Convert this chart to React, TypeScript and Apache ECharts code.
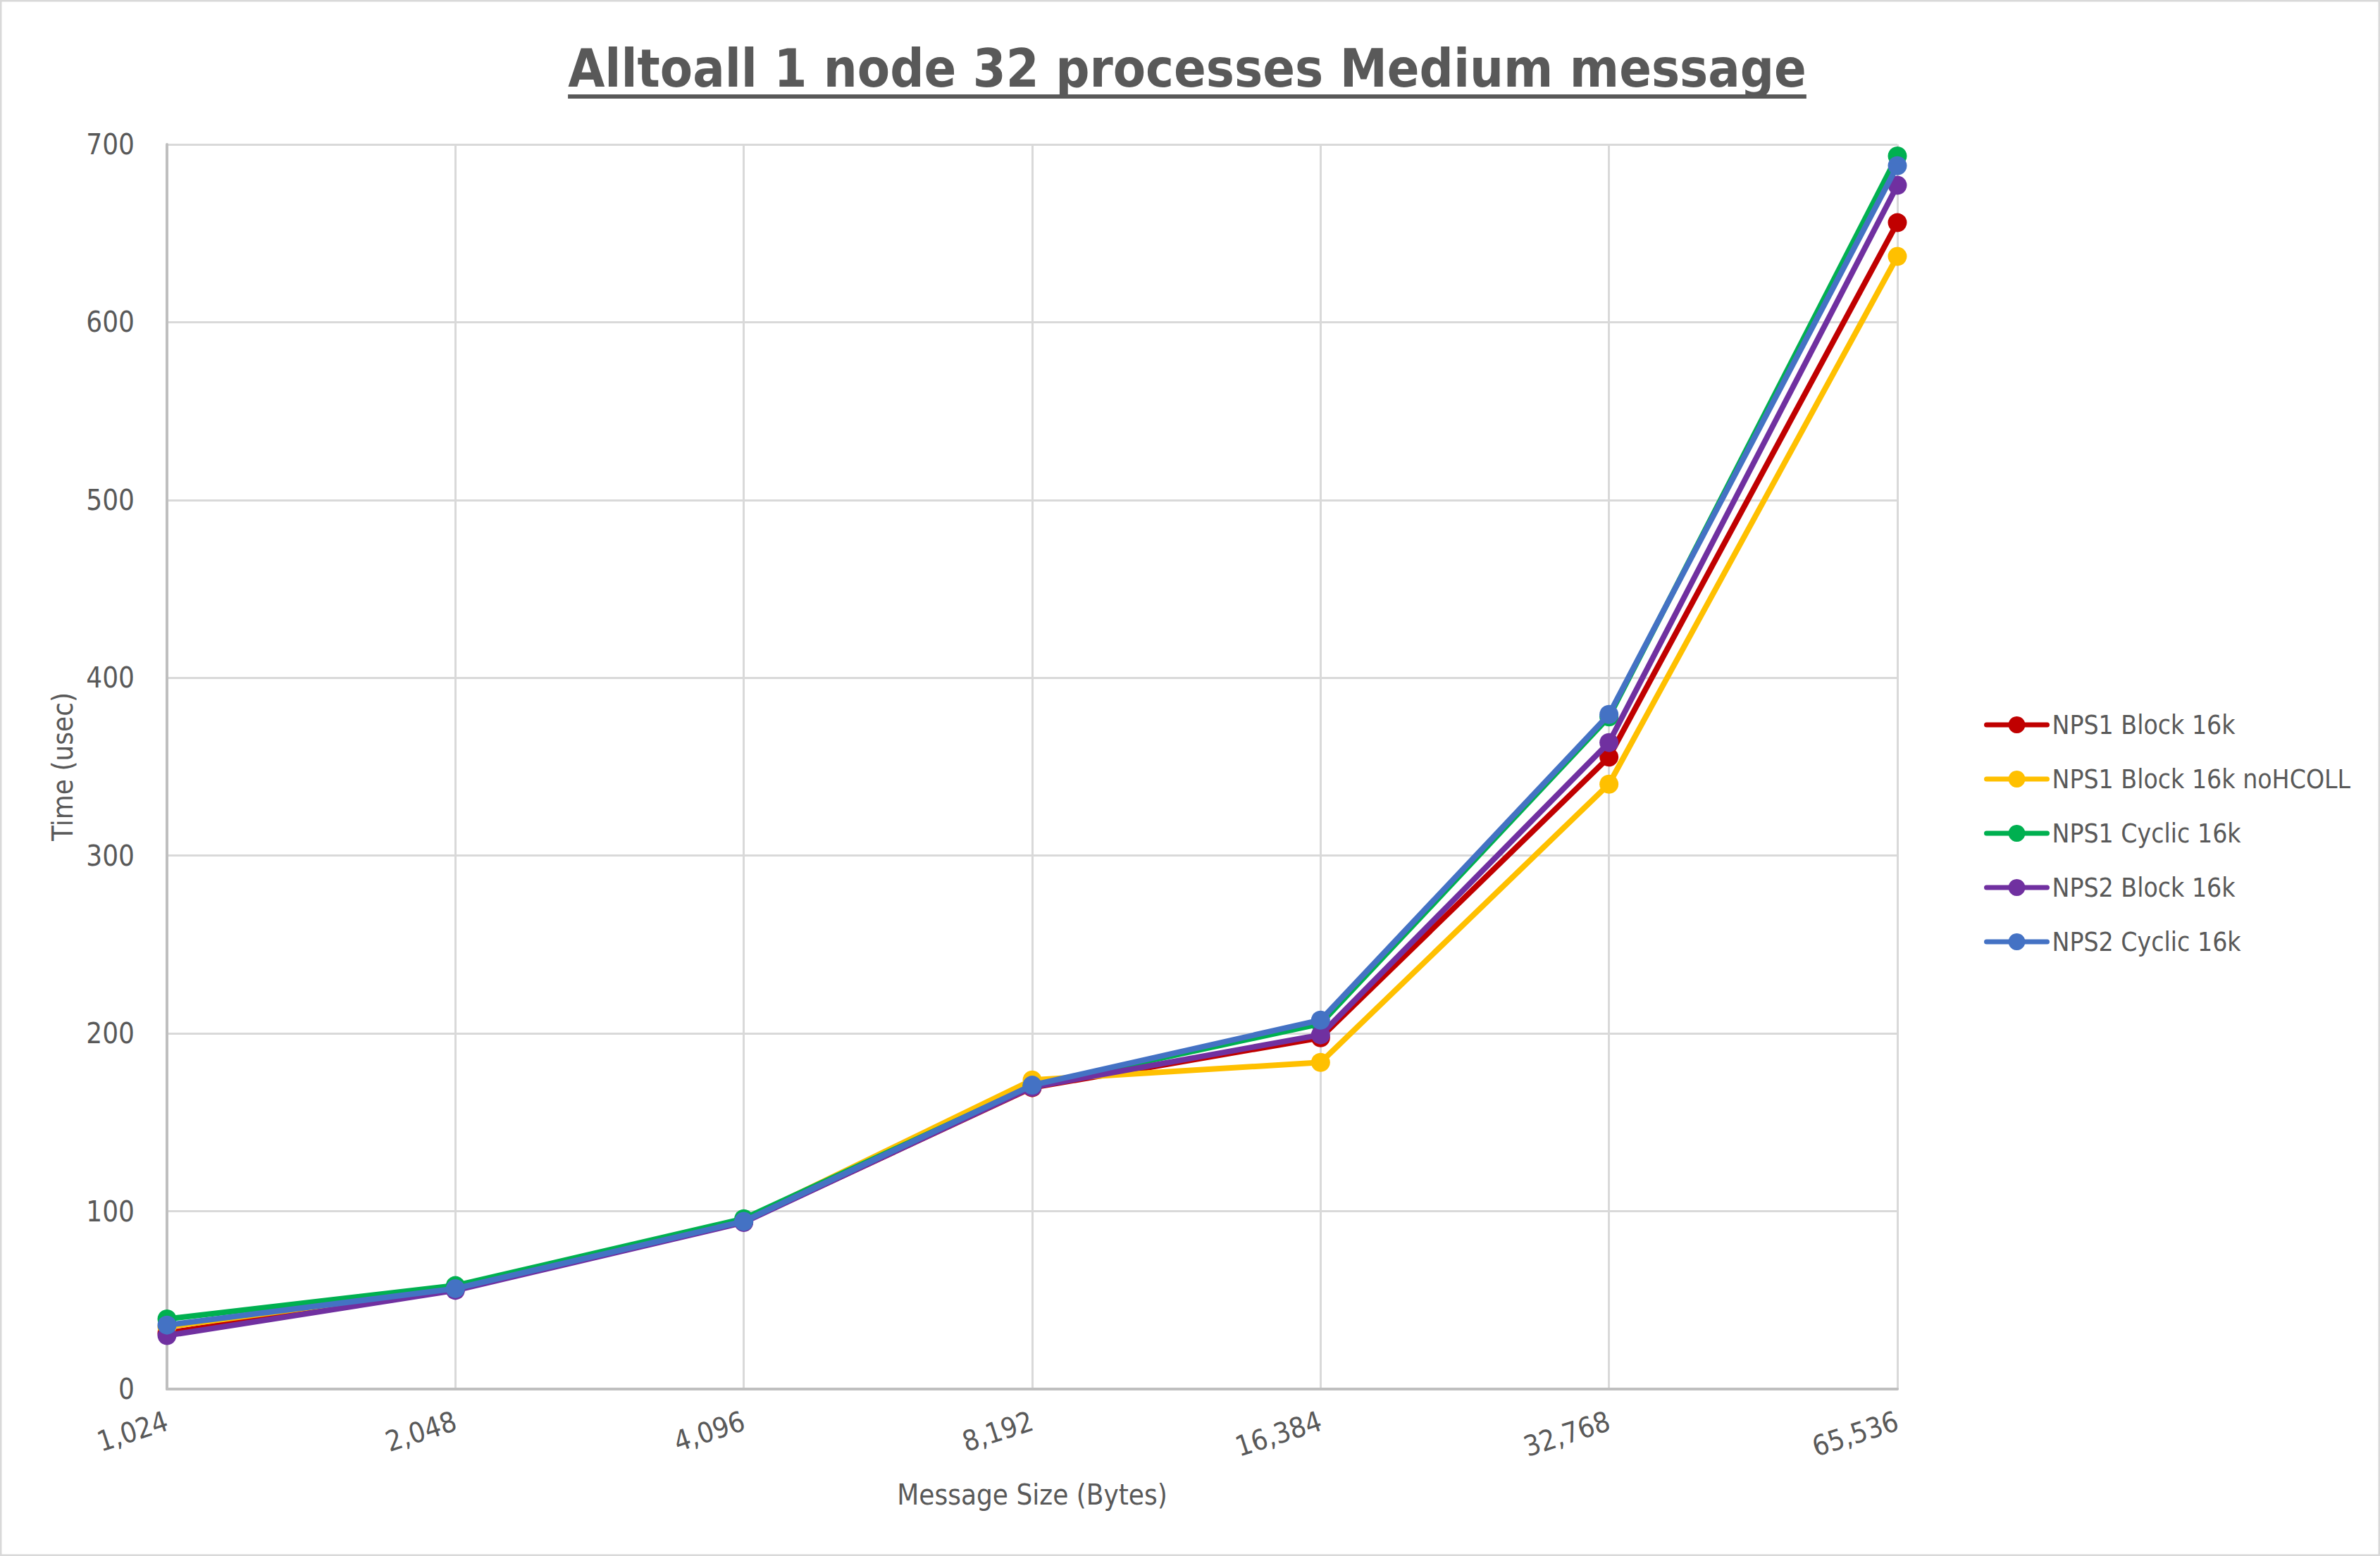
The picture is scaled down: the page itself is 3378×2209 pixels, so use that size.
import React, { useEffect, useRef } from "react";
import * as echarts from "echarts";

const categories = ["1,024", "2,048", "4,096", "8,192", "16,384", "32,768", "65,536"];
const seriesNames = [
  "NPS1 Block 16k",
  "NPS1 Block 16k noHCOLL",
  "NPS1 Cyclic 16k",
  "NPS2 Block 16k",
  "NPS2 Cyclic 16k",
];
const nps1Block = [31.5, 56, 94, 169.5, 197.6, 355.4, 656];
const nps1BlockNoHcoll = [35, 57, 95, 173.8, 183.7, 340.2, 637];
const nps1Cyclic = [39.4, 58.2, 95.8, 170.5, 205.5, 378, 693.5];
const nps2Block = [30.1, 55.5, 93.7, 169.8, 199.2, 363.6, 677];
const nps2Cyclic = [36, 56.5, 94.3, 170.9, 207.5, 379.4, 688];
const colors = ["#C00000", "#FFC000", "#00B050", "#7030A0", "#4472C4"];
const titleText = "Alltoall 1 node 32 processes Medium message";

const W = 3378;
const H = 2209;
const FONT = "'DejaVu Sans Condensed', 'Noto Sans', sans-serif";
const TEXT = "#595959";

export default function App() {
  const ref = useRef<HTMLDivElement>(null);
  useEffect(() => {
    document.body.style.margin = "0";
    if (!ref.current) return;
    const chart = echarts.init(ref.current, undefined, { renderer: "svg" });
    const titleFont = "bold 75px " + FONT;
    let tw = 1747;
    try {
      const ctx = document.createElement("canvas").getContext("2d");
      if (ctx) {
        ctx.font = titleFont;
        tw = ctx.measureText(titleText).width;
      }
    } catch (e) {}
    const cx = 1685;
    const allData = [nps1Block, nps1BlockNoHcoll, nps1Cyclic, nps2Block, nps2Cyclic];
    chart.setOption({
      animation: false,
      backgroundColor: "#ffffff",
      color: colors,
      graphic: [
        {
          type: "rect",
          shape: { x: 1, y: 1, width: W - 2, height: H - 2 },
          style: { fill: "none", stroke: "#d9d9d9", lineWidth: 3 },
          silent: true,
        },
        {
          type: "text",
          x: cx,
          y: 97,
          style: {
            text: titleText,
            font: titleFont,
            fill: TEXT,
            textAlign: "center",
            textVerticalAlign: "middle",
          },
        },
        {
          type: "rect",
          shape: { x: cx - tw / 2, y: 134, width: tw, height: 6 },
          style: { fill: TEXT },
        },
      ],
      grid: { left: 237, right: W - 2693, top: 205, bottom: H - 1972, containLabel: false },
      legend: {
        orient: "vertical",
        left: 2811,
        top: 1005,
        itemWidth: 86,
        itemHeight: 30,
        itemGap: 39,
        data: seriesNames,
        lineStyle: { width: 7, cap: "round" },
        textStyle: { fontFamily: FONT, fontSize: 37, color: TEXT, lineHeight: 38, padding: [0, 0, 0, 2] },
      },
      xAxis: {
        type: "category",
        data: categories,
        boundaryGap: false,
        name: "Message Size (Bytes)",
        nameLocation: "middle",
        nameGap: 130,
        nameTextStyle: { fontFamily: FONT, fontSize: 40, color: TEXT },
        axisLine: { lineStyle: { color: "#bfbfbf", width: 4 } },
        axisTick: { show: false },
        axisLabel: { fontFamily: FONT, fontSize: 40, color: TEXT, rotate: 18, margin: 44, interval: 0 },
        splitLine: { show: true, lineStyle: { color: "#d9d9d9", width: 3 } },
      },
      yAxis: {
        type: "value",
        min: 0,
        max: 700,
        interval: 100,
        name: "Time (usec)",
        nameLocation: "middle",
        nameGap: 128,
        nameTextStyle: { fontFamily: FONT, fontSize: 40, color: TEXT },
        axisLine: { show: true, lineStyle: { color: "#bfbfbf", width: 4 } },
        axisTick: { show: false },
        axisLabel: { fontFamily: FONT, fontSize: 40, color: TEXT, margin: 46 },
        splitLine: { show: true, lineStyle: { color: "#d9d9d9", width: 3 } },
      },
      series: seriesNames.map((name, i) => ({
        name,
        type: "line",
        data: allData[i],
        symbol: "circle",
        symbolSize: 27,
        lineStyle: { width: 8, color: colors[i], cap: "round" },
        itemStyle: { color: colors[i] },
        z: 2 + i,
      })),
    });
    return () => chart.dispose();
  }, []);
  return <div ref={ref} style={{ width: W, height: H }} />;
}
